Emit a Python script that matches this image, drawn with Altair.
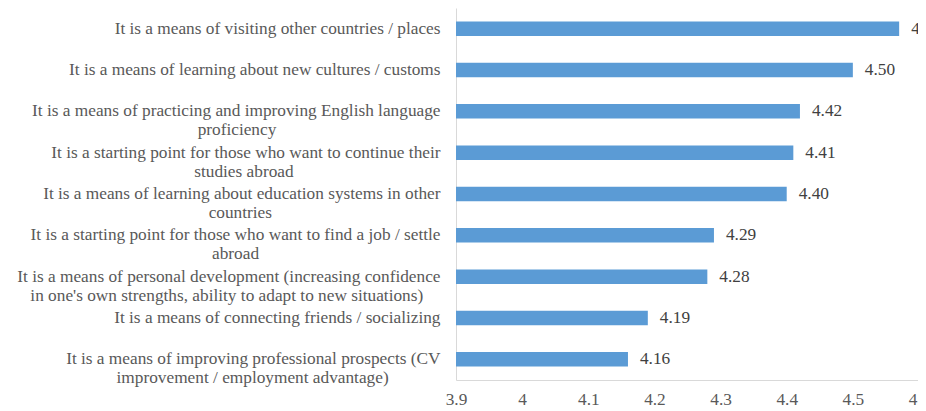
import altair as alt
import pandas as pd

categories = [
    "It is a means of visiting other countries / places",
    "It is a means of learning about new cultures / customs",
    "It is a means of practicing and improving English language\nproficiency",
    "It is a starting point for those who want to continue their\nstudies abroad",
    "It is a means of learning about education systems in other\ncountries",
    "It is a starting point for those who want to find a job / settle\nabroad",
    "It is a means of personal development (increasing confidence\nin one's own strengths, ability to adapt to new situations)",
    "It is a means of connecting friends / socializing",
    "It is a means of improving professional prospects (CV\nimprovement / employment advantage)",
]
values = [4.57, 4.50, 4.42, 4.41, 4.40, 4.29, 4.28, 4.19, 4.16]
x_ticks = [3.9, 4.0, 4.1, 4.2, 4.3, 4.4, 4.5, 4.6]

# Times / Liberation Serif advance widths (1/1000 em), used only to centre the
# second line of a wrapped label under its first line (Excel-style labels).
_W = dict(zip("abcdefghijklmnopqrstuvwxyz",
              [444, 500, 444, 500, 444, 333, 500, 500, 278, 278, 500, 278, 778,
               500, 500, 500, 500, 333, 389, 278, 500, 500, 722, 500, 500, 444]))
_W.update({"I": 333, "E": 611, "C": 667, "V": 722, " ": 250, "/": 278,
           "(": 333, ")": 333, "'": 180, ",": 250, ".": 250})


def _tw(s):
    return sum(_W.get(c, 500) for c in s)


def _centre(label):
    if "\n" not in label:
        return label
    a, b = label.split("\n")
    pad = max(0, round((_tw(a) - _tw(b)) / 2 / 250))
    # trailing no-break spaces, closed by a zero-width space so they survive trimming
    return a + "\n" + b + "\u00a0" * pad + "\u200b"


df = pd.DataFrame({"cat": [_centre(c) for c in categories], "val": values})
order = list(df["cat"])

FONT = "Liberation Serif"
FS = 17.3

base = alt.Chart(df).encode(
    y=alt.Y(
        "cat:N",
        sort=order,
        title=None,
        axis=alt.Axis(
            labelExpr="split(datum.label, '\\n')",
            labelFont=FONT,
            labelFontSize=FS,
            labelColor="#595959",
            labelLimit=800,
            labelPadding=16,
            labelLineHeight=19,
            ticks=False,
            domainColor="#d9d9d9",
        ),
    )
)

bars = base.mark_bar(color="#5B9BD5", size=14.5).encode(
    x=alt.X(
        "val:Q",
        scale=alt.Scale(domain=[3.9, 4.6], zero=False, nice=False, range=[0, 463]),
        title=None,
        axis=alt.Axis(
            values=x_ticks,
            labelExpr="format(datum.value, '.1~f')",
            labelFont=FONT,
            labelFontSize=FS,
            labelColor="#595959",
            labelPadding=10,
            labelFlush=False,
            ticks=False,
            grid=False,
            domainColor="#d9d9d9",
        ),
    ),
    x2=alt.datum(3.9),
)

text = base.mark_text(
    align="left", dx=12, font=FONT, fontSize=FS, color="#404040"
).encode(
    x="val:Q",
    text=alt.Text("val:Q", format=".2f"),
)

chart = (
    (bars + text)
    .properties(
        width=454,
        height=372,
        autosize=alt.AutoSizeParams(type="none"),
        padding={"left": 448, "top": 0, "right": 8, "bottom": 28},
    )
    .configure_view(stroke=None)
)

chart.save("out.html", embed_options={"renderer": "svg", "actions": False})
